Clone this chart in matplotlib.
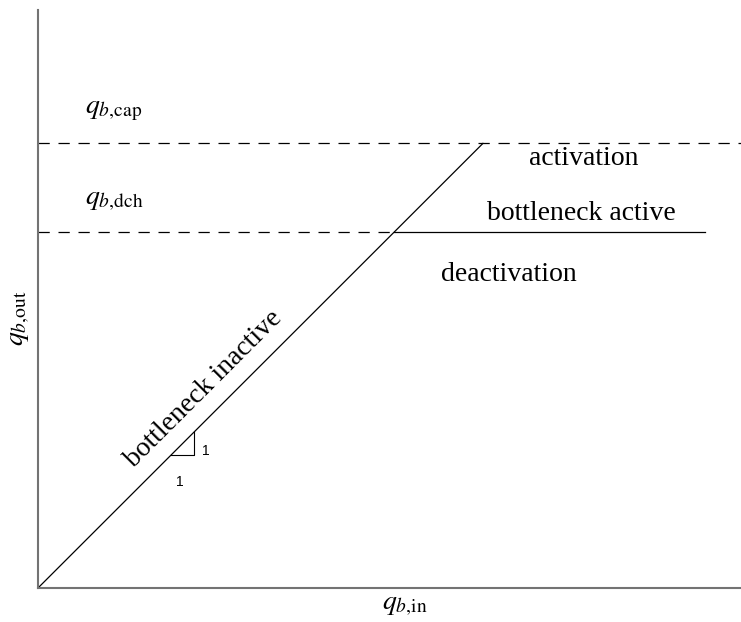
import matplotlib
matplotlib.use("Agg")
import matplotlib.pyplot as plt

# data (units: q_cap = 1)
q_cap = 1.0
q_dch = 0.80
x_max = 1.58
y_max = 1.30
active_end = 1.50
tri_x0 = 0.30
tri_step = 0.05

plt.rcParams['font.family'] = ['Liberation Serif', 'DejaVu Serif']
plt.rcParams['mathtext.fontset'] = 'stix'

fig = plt.figure(figsize=(7.41, 6.22), dpi=100)
W, H = 741, 622
ax = fig.add_axes([38 / W, (H - 588) / H, (W - 38) / W, (588 - 10) / H])
ax.set_xlim(0, x_max)
ax.set_ylim(0, y_max)
ax.set_xticks([])
ax.set_yticks([])
for s in ['top', 'right']:
    ax.spines[s].set_visible(False)
for s in ['left', 'bottom']:
    ax.spines[s].set_color('0.45')
    ax.spines[s].set_linewidth(1.5)

dash = (0, (9, 7))
# diagonal
ax.plot([0, q_cap], [0, q_cap], color='black', lw=0.9)
# capacity dashed
ax.plot([0, x_max], [q_cap, q_cap], color='black', lw=0.9, ls=dash, clip_on=False)
# discharge dashed + solid
ax.plot([0, q_dch], [q_dch, q_dch], color='black', lw=0.9, ls=dash)
ax.plot([q_dch, active_end], [q_dch, q_dch], color='black', lw=0.9)

# slope triangle
ax.plot([tri_x0, tri_x0 + tri_step, tri_x0 + tri_step],
        [tri_x0, tri_x0, tri_x0 + tri_step], color='black', lw=0.8)
ax.text(0.377, 0.308, '1', fontsize=10, family='Liberation Sans', ha='center', va='center')
ax.text(0.319, 0.238, '1', fontsize=10, family='Liberation Sans', ha='center', va='center')

fs = 20
ax.text(0.105, 1.074, r'$q_{b,\!\mathrm{cap}}$', fontsize=fs, ha='left', va='center')
ax.text(0.105, 0.872, r'$q_{b,\!\mathrm{dch}}$', fontsize=fs, ha='left', va='center')
ax.text(1.227, 0.966, 'activation', fontsize=fs, ha='center', va='center')
ax.text(1.222, 0.843, 'bottleneck active', fontsize=fs, ha='center', va='center')
ax.text(1.058, 0.706, 'deactivation', fontsize=fs, ha='center', va='center')
ax.text(0.372, 0.447, 'bottleneck inactive', fontsize=fs, ha='center', va='center',
        rotation=45, rotation_mode='anchor')

fig.text(405 / W, 1 - 605 / H, r'$q_{b,\!\mathrm{in}}$', fontsize=fs, ha='center', va='center')
fig.text(20 / W, 1 - 318 / H, r'$q_{b,\!\mathrm{out}}$', fontsize=fs, ha='center', va='center',
         rotation=90)

fig.savefig('out.png', dpi=100)
